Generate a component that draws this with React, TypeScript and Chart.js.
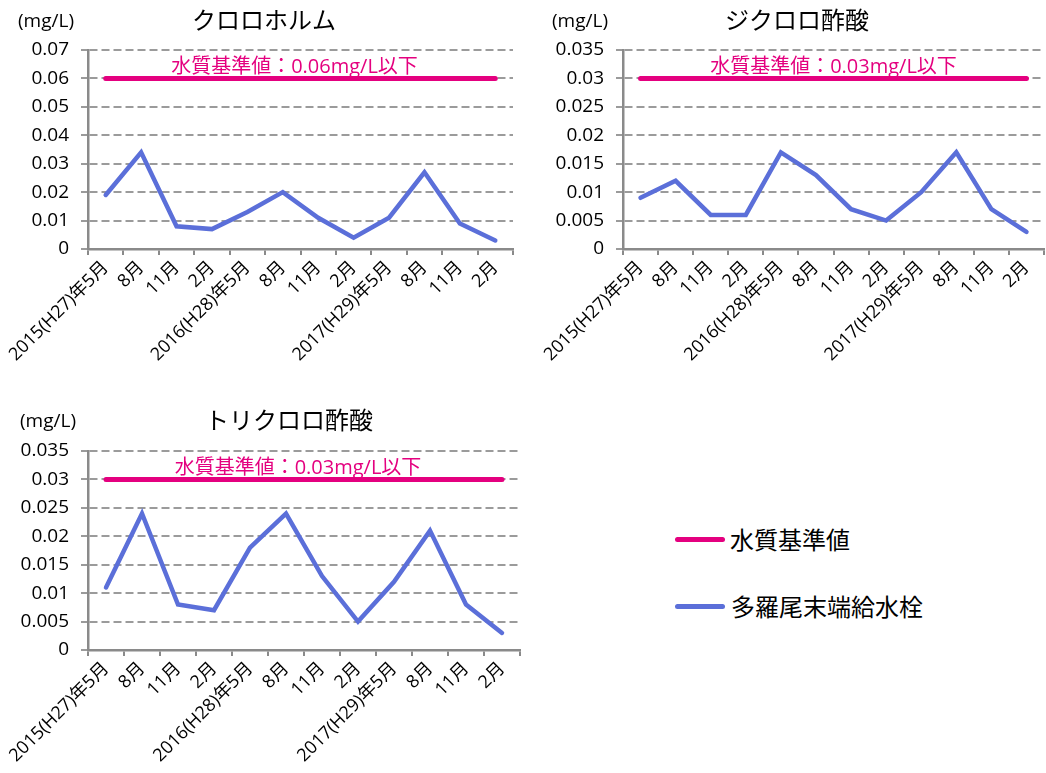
import React, { useEffect, useRef } from "react";
import { Chart, registerables } from "chart.js";

Chart.register(...registerables);

const categories = [
  "2015(H27)年5月", "8月", "11月", "2月",
  "2016(H28)年5月", "8月", "11月", "2月",
  "2017(H29)年5月", "8月", "11月", "2月",
];

const chloroform = [0.019, 0.034, 0.008, 0.007, 0.013, 0.02, 0.011, 0.004, 0.011, 0.027, 0.009, 0.003];
const dichloroacetic = [0.009, 0.012, 0.006, 0.006, 0.017, 0.013, 0.007, 0.005, 0.01, 0.017, 0.007, 0.003];
const trichloroacetic = [0.011, 0.024, 0.008, 0.007, 0.018, 0.024, 0.013, 0.005, 0.012, 0.021, 0.008, 0.003];

const chloroformStandard = [0.06, 0.06, 0.06, 0.06, 0.06, 0.06, 0.06, 0.06, 0.06, 0.06, 0.06, 0.06];
const haaStandard = [0.03, 0.03, 0.03, 0.03, 0.03, 0.03, 0.03, 0.03, 0.03, 0.03, 0.03, 0.03];

const titles = ["クロロホルム", "ジクロロ酢酸", "トリクロロ酢酸"];
const standardLabels = ["水質基準値：0.06mg/L以下", "水質基準値：0.03mg/L以下", "水質基準値：0.03mg/L以下"];
const seriesNames = ["水質基準値", "多羅尾末端給水栓"];
const unitLabel = "(mg/L)";

const PINK = "#E4007F";
const BLUE = "#5B6FD9";
const GRID = "#9B9B9B";
const AXIS = "#8A8A8A";
const FONT = "'Open Sans', 'Noto Sans CJK JP', sans-serif";
const JP = "'Noto Sans CJK JP', sans-serif";

const annotPlugin = {
  id: "annot",
  afterDraw(chart: any, _args: any, opts: any) {
    const { ctx, chartArea, scales } = chart;
    ctx.save();
    ctx.fillStyle = "#000";
    ctx.textBaseline = "middle";
    ctx.textAlign = "center";
    ctx.font = `24px ${JP}`;
    ctx.fillText(opts.title, opts.titleX, opts.titleY);
    ctx.textAlign = "left";
    ctx.font = `19px ${FONT}`;
    ctx.fillText(unitLabel, opts.unitX, opts.unitY);
    const y = scales.y.getPixelForValue(opts.standard);
    ctx.fillStyle = PINK;
    ctx.font = `20px ${FONT}`;
    ctx.textAlign = "center";
    ctx.textBaseline = "bottom";
    ctx.fillText(opts.label, (chartArea.left + chartArea.right) / 2 + opts.labelDx, y - 1);
    ctx.restore();
  },
};

type Props = {
  left: number; top: number; width: number; height: number;
  plotLeft: number; plotRight: number; plotTop: number; plotBottom: number;
  values: number[]; standard: number[]; max: number; step: number;
  title: string; label: string; titleX: number; titleY: number; unitX: number; unitY: number;
  labelDx: number;
};

function LineChart(p: Props) {
  const ref = useRef<HTMLCanvasElement>(null);
  useEffect(() => {
    const chart = new Chart(ref.current!, {
      type: "line",
      data: {
        labels: categories,
        datasets: [
          {
            label: seriesNames[0],
            data: p.standard,
            borderColor: PINK,
            backgroundColor: PINK,
            borderWidth: 5,
            pointRadius: 0,
            borderCapStyle: "round",
            tension: 0,
          },
          {
            label: seriesNames[1],
            data: p.values,
            borderColor: BLUE,
            backgroundColor: BLUE,
            borderWidth: 4.5,
            pointRadius: 0,
            borderCapStyle: "round",
            borderJoinStyle: "miter",
            tension: 0,
          },
        ],
      },
      options: {
        animation: false,
        responsive: false,
        devicePixelRatio: 1,
        layout: { padding: { left: 0, right: p.width - p.plotRight, top: p.plotTop, bottom: 0 } },
        plugins: {
          legend: { display: false },
          tooltip: { enabled: false },
          annot: {
            title: p.title, label: p.label, standard: p.standard[0],
            titleX: p.titleX, titleY: p.titleY, unitX: p.unitX, unitY: p.unitY, labelDx: p.labelDx,
          },
        } as any,
        scales: {
          x: {
            offset: true,
            grid: {
              display: true,
              drawOnChartArea: false,
              drawTicks: true,
              tickLength: 6,
              offset: true,
              color: AXIS,
              lineWidth: 2,
            },
            border: { display: true, color: AXIS, width: 2.5 },
            ticks: {
              autoSkip: false,
              maxRotation: 45,
              minRotation: 45,
              padding: 2,
              color: "#000",
              font: { family: FONT, size: 18 },
            },
            afterFit: (s: any) => { s.height = p.height - p.plotBottom; },
          },
          y: {
            min: 0,
            max: p.max,
            grid: {
              color: GRID,
              lineWidth: 2,
              drawTicks: true,
              tickLength: 7,
              tickColor: GRID,
              tickWidth: 2,
            },
            border: { display: true, color: AXIS, width: 2.5, dash: [8, 4] },
            ticks: {
              stepSize: p.step,
              padding: 12,
              color: "#000",
              font: { family: FONT, size: 19 },
              callback: (v: any) => String(Number(Number(v).toFixed(3))),
            },
            afterFit: (s: any) => { s.width = p.plotLeft; },
          },
        },
      },
      plugins: [annotPlugin],
    } as any);
    return () => chart.destroy();
  }, []);
  return (
    <canvas
      ref={ref}
      width={p.width}
      height={p.height}
      style={{ position: "absolute", left: p.left, top: p.top, width: p.width, height: p.height }}
    />
  );
}

export default function App() {
  return (
    <div style={{ position: "absolute", left: 0, top: 0, width: 1046, height: 773, background: "#fff", overflow: "hidden" }}>
      <LineChart
        left={0} top={0} width={530} height={385}
        plotLeft={88} plotRight={513} plotTop={50} plotBottom={249}
        values={chloroform} standard={chloroformStandard} max={0.07} step={0.01}
        title={titles[0]} label={standardLabels[0]} titleX={264} titleY={20} unitX={18} unitY={22} labelDx={-6}
      />
      <LineChart
        left={530} top={0} width={516} height={385}
        plotLeft={93} plotRight={514} plotTop={50} plotBottom={249}
        values={dichloroacetic} standard={haaStandard} max={0.035} step={0.005}
        title={titles[1]} label={standardLabels[1]} titleX={267} titleY={20} unitX={22} unitY={22} labelDx={0}
      />
      <LineChart
        left={0} top={390} width={540} height={383}
        plotLeft={88} plotRight={520} plotTop={61} plotBottom={260}
        values={trichloroacetic} standard={haaStandard} max={0.035} step={0.005}
        title={titles[2]} label={standardLabels[2]} titleX={289} titleY={30} unitX={20} unitY={32} labelDx={-6}
      />
      <div style={{ position: "absolute", left: 675, top: 537, width: 50, height: 5, borderRadius: 3, background: PINK }} />
      <div style={{ position: "absolute", left: 730, top: 522, fontFamily: JP, fontSize: 24, lineHeight: "34px", color: "#000", whiteSpace: "nowrap" }}>
        {seriesNames[0]}
      </div>
      <div style={{ position: "absolute", left: 675, top: 604, width: 50, height: 5, borderRadius: 3, background: BLUE }} />
      <div style={{ position: "absolute", left: 731, top: 589, fontFamily: JP, fontSize: 24, lineHeight: "34px", color: "#000", whiteSpace: "nowrap" }}>
        {seriesNames[1]}
      </div>
    </div>
  );
}
